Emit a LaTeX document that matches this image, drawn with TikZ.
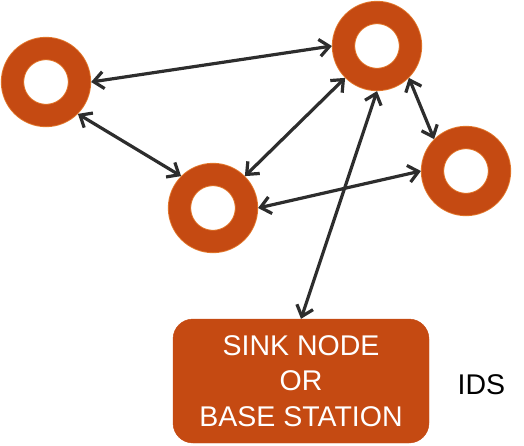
\documentclass[tikz,border=0pt]{standalone}
\usepackage{fontspec}
\setmainfont{Liberation Sans}
\usetikzlibrary{arrows.meta, positioning}

\definecolor{ringfill}{HTML}{C54A12}
\definecolor{ringedge}{HTML}{E2782C}
\definecolor{linkgray}{HTML}{2D2D2D}

\begin{document}
\begin{tikzpicture}[x=1pt, y=-1pt,
		ring/.style={circle, draw=ringedge, double=ringfill, double distance=21.5pt, line width=0.9pt, fill=white, minimum size=67pt, inner sep=0pt, outer sep=11.6pt},
		link/.style={linkgray, line width=3.2pt, {Straight Barb[length=10pt,width=17pt]}-{Straight Barb[length=10pt,width=17pt]}}]
		\useasboundingbox (0,0) rectangle (524,445);
		
		\node[ring] (left) at (46,82) {};
		\node[ring] (top) at (377,46) {};
		\node[ring] (mid) at (213,208) {};
		\node[ring] (right) at (466,171) {};
		
		\node[rectangle, draw=ringfill, fill=ringfill, rounded corners=20pt, minimum width=256pt, minimum height=124pt, align=center, text=white, font=\fontsize{28.5}{35.5}\selectfont] (sink) at (301,381) {SINK NODE\\OR\\BASE STATION};
		\node[right=25pt of sink, yshift=-4pt, font=\fontsize{28.5}{34}\selectfont] (ids) {IDS};
		
		\draw[link] (left.east) -- (top.west);
		\draw[link] (left.-45) -- (mid.135);
		\draw[link] (mid.45) -- (top.225);
		\draw[link] (mid.east) -- (right.west);
		\draw[link] (top.-45) -- (right.135);
		\draw[link] (top.south) -- (sink.north);
		
	\end{tikzpicture}
\end{document}
